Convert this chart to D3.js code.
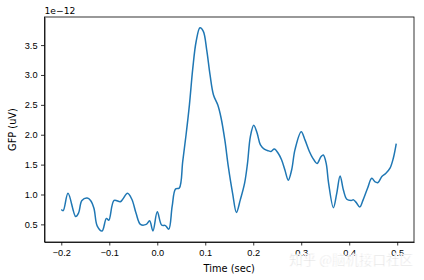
<!DOCTYPE html>
<html>
<head>
<meta charset="utf-8">
<script src="https://cdn.jsdelivr.net/npm/d3@7"></script>
<style>
  body { margin: 0; background: #fff; }
  svg { display: block; font-family: "DejaVu Sans", sans-serif; }
  .axis path, .axis line { stroke: #000; stroke-width: 0.8; }
  .axis text { fill: #000; font-size: 9.2px; }
</style>
</head>
<body>
<svg id="chart"></svg>
<script>
// time (sec) and GFP values (x 1e-12 uV)
const times = [
  -0.200, -0.196, -0.186, -0.170, -0.164, -0.157, -0.146, -0.139, -0.132, -0.125,
  -0.115, -0.106, -0.101, -0.090, -0.077, -0.072, -0.062, -0.053, -0.044, -0.035,
  -0.023, -0.016, -0.009, 0.000, 0.009, 0.017, 0.024, 0.031, 0.038, 0.046,
  0.053, 0.060, 0.067, 0.074, 0.081, 0.089, 0.096, 0.103, 0.110, 0.117,
  0.126, 0.133, 0.141, 0.148, 0.157, 0.165, 0.173, 0.182, 0.188, 0.194,
  0.201, 0.208, 0.215, 0.223, 0.232, 0.237, 0.244, 0.252, 0.259, 0.266,
  0.273, 0.280, 0.287, 0.300, 0.308, 0.317, 0.324, 0.333, 0.341, 0.346,
  0.352, 0.357, 0.367, 0.374, 0.381, 0.388, 0.395, 0.404, 0.409, 0.415,
  0.422, 0.429, 0.438, 0.447, 0.454, 0.460, 0.468, 0.476, 0.485, 0.492, 0.498
]
const gfp = [
  0.75, 0.73, 1.02, 0.63, 0.69, 0.90, 0.94, 0.90, 0.77, 0.47,
  0.39, 0.60, 0.57, 0.90, 0.88, 0.92, 1.02, 0.92, 0.68, 0.50,
  0.50, 0.56, 0.39, 0.71, 0.49, 0.48, 0.42, 0.80, 1.09, 1.11,
  1.55, 2.00, 2.50, 3.11, 3.56, 3.79, 3.73, 3.42, 3.00, 2.67,
  2.50, 2.28, 1.90, 1.47, 1.02, 0.70, 0.91, 1.19, 1.52, 1.97,
  2.16, 2.03, 1.83, 1.76, 1.73, 1.72, 1.76, 1.69, 1.58, 1.41,
  1.24, 1.41, 1.75, 2.05, 1.91, 1.72, 1.61, 1.52, 1.63, 1.66,
  1.52, 1.19, 0.78, 1.02, 1.31, 1.07, 0.92, 0.90, 0.91, 0.86,
  0.79, 0.91, 1.10, 1.27, 1.21, 1.20, 1.30, 1.35, 1.44, 1.61, 1.85
]
const xTicks = [-0.2, -0.1, 0.0, 0.1, 0.2, 0.3, 0.4, 0.5]
const yTicks = [0.5, 1.0, 1.5, 2.0, 2.5, 3.0, 3.5]

const width = 424
const height = 280
const margin = { top: 17, right: 10, bottom: 38, left: 44.5 }
const w = width - margin.left - margin.right
const h = height - margin.top - margin.bottom

const data = times.map((t, i) => ({ t, v: gfp[i] }))
const minus = s => s.replace('-', '\u2212')

const svg = d3.select('#chart')
  .attr('width', width)
  .attr('height', height)

const chart = svg.append('g')
  .attr('transform', `translate(${margin.left}, ${margin.top})`)

const xScale = d3.scaleLinear().domain([-0.235, 0.535]).range([0, w])
const yScale = d3.scaleLinear().domain([0.205, 3.97]).range([h, 0])

const xAxis = d3.axisBottom(xScale)
  .tickValues(xTicks)
  .tickSize(3.5)
  .tickPadding(3.5)
  .tickSizeOuter(0)
  .tickFormat(d => minus(d3.format('.1f')(d)))

const yAxis = d3.axisLeft(yScale)
  .tickValues(yTicks)
  .tickSize(3.5)
  .tickPadding(3.5)
  .tickSizeOuter(0)
  .tickFormat(d3.format('.1f'))

chart.append('g')
  .attr('class', 'x axis')
  .attr('transform', `translate(0, ${h})`)
  .call(xAxis)

chart.append('g')
  .attr('class', 'y axis')
  .call(yAxis)

// spines
chart.append('rect')
  .attr('width', w)
  .attr('height', h)
  .attr('fill', 'none')
  .attr('stroke', '#000')
  .attr('stroke-width', 0.8)

const line = d3.line()
  .x(d => xScale(d.t))
  .y(d => yScale(d.v))
  .curve(d3.curveCatmullRom.alpha(0.5))

chart.append('path')
  .datum(data)
  .attr('class', 'line')
  .attr('fill', 'none')
  .attr('stroke', '#1f77b4')
  .attr('stroke-width', 1.5)
  .attr('d', line)

// offset label and axis titles
chart.append('text')
  .attr('x', 0)
  .attr('y', -3)
  .attr('font-size', 9.2)
  .text('1e\u221212')

chart.append('text')
  .attr('x', w / 2)
  .attr('y', h + 30)
  .attr('text-anchor', 'middle')
  .attr('font-size', 9.8)
  .text('Time (sec)')

chart.append('text')
  .attr('transform', `translate(${-29}, ${h / 2}) rotate(-90)`)
  .attr('text-anchor', 'middle')
  .attr('font-size', 9.8)
  .text('GFP (uV)')

// watermark
svg.append('text')
  .attr('x', 413)
  .attr('y', 265)
  .attr('text-anchor', 'end')
  .attr('font-family', '"Noto Sans CJK SC", sans-serif')
  .attr('font-size', 13.5)
  .attr('fill', '#d4d4d4')
  .attr('stroke', '#fff')
  .attr('stroke-width', 0.6)
  .text('知乎 @脑机接口社区')
</script>
</body>
</html>
